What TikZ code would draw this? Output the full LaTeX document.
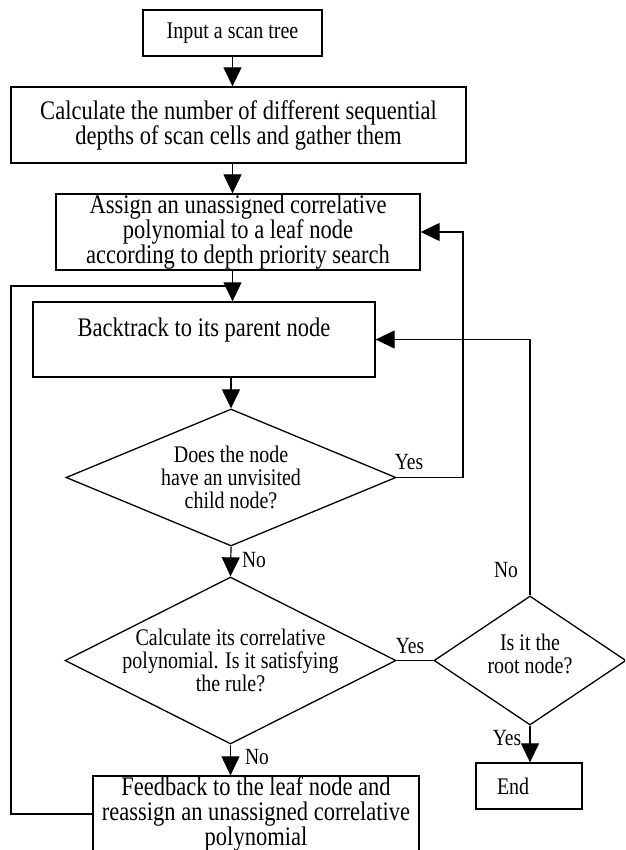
\documentclass[tikz,border=0pt]{standalone}
\usepackage{fontspec}
\setmainfont{Liberation Serif}
\newfontfamily\tallserif[FakeStretch=0.84]{Liberation Serif}
\usetikzlibrary{arrows.meta,positioning,shapes.geometric,calc}
\definecolor{ink}{HTML}{000000}
\tikzset{
  procbox/.style={
    draw=ink, line width=1.3pt, rectangle,
    align=center, inner sep=0pt,
    font=\tallserif\fontsize{26.8}{25}\selectfont
  },
  smallbox/.style={
    procbox, font=\tallserif\fontsize{23.8}{23}\selectfont
  },
  decision/.style={
    draw=ink, line width=1.3pt, diamond, inner sep=0pt
  },
  decisiontext/.style={
    align=center, inner sep=0pt,
    font=\tallserif\fontsize{23.8}{23}\selectfont
  },
  flowlabel/.style={inner sep=0pt, font=\tallserif\fontsize{23.2}{22}\selectfont},
  flowline/.style={draw=ink, line width=1.2pt},
  flowarrow/.style={flowline, -{Triangle[length=19pt,width=18pt]}}
}

\begin{document}
\begin{tikzpicture}[x=1pt,y=-1pt]
  \fill[white] (0,0) rectangle (625,850);
  \clip (0,0) rectangle (625,850);

  \node[smallbox,minimum width=179pt,minimum height=46pt] (input) at (232.5,33) {Input a scan tree};
  \node[procbox,minimum width=455pt,minimum height=76pt] (depths) at (238.5,125)
    {Calculate the number of different sequential\\depths of scan cells and gather them};
  \node[procbox,minimum width=364pt,minimum height=76pt] (assign) at (238,232)
    {Assign an unassigned correlative\\polynomial to a leaf node\\according to depth priority search};
  \node[procbox,minimum width=342pt,minimum height=75pt] (backtrack) at (204,339.5)
    {Backtrack to its parent node\\ \mbox{}};

  \node[decision,minimum width=330pt,minimum height=137pt] (unvisited) at (231,477.5) {};
  \node[decisiontext] (unvisitedtxt) at (unvisited) {Does the node\\have an unvisited\\child node?};
  \node[decision,minimum width=331pt,minimum height=167pt] (satisfy) at (230.5,660.5) {};
  \node[decisiontext] (satisfytxt) at (satisfy) {Calculate its correlative\\polynomial. Is it satisfying\\the rule?};
  \node[decision,minimum width=192pt,minimum height=129pt] (isroot) at (530,660.5) {};
  \node[decisiontext] (isroottxt) at (530,654) {Is it the\\root node?};

  \node[procbox,minimum width=326pt,minimum height=76pt] (feedback) at (256,814)
    {Feedback to the leaf node and\\reassign an unassigned correlative\\polynomial};
  \node[smallbox,minimum width=106pt,minimum height=46pt,text width=64pt,align=left] (finish) at (529,786) {End};

  \coordinate (yesturn) at (463,477.5);
  \coordinate (loopleft) at (11,286);
  \coordinate (loopjoin) at (232.5,286);

  \draw[flowarrow] (input.south) -- (input.south |- depths.north);
  \draw[flowarrow] (input.south |- depths.south) -- (input.south |- assign.north);
  \draw[flowarrow] (input.south |- assign.south) -- (input.south |- backtrack.north);
  \draw[flowarrow] (backtrack.south -| unvisited.north) -- (unvisited.north);
  \draw[flowarrow] (unvisited.south) -- (satisfy.north);
  \draw[flowarrow] (satisfy.south) -- (satisfy.south |- feedback.north);
  \draw[flowarrow] (unvisited.east) -- (yesturn) |- (assign.east);
  \draw[flowline] (satisfy.east) -- (isroot.west);
  \draw[flowarrow] (isroot.north) |- (backtrack.east);
  \draw[flowarrow] (isroot.south) -- (isroot.south |- finish.north);
  \draw[flowline] (feedback.west) -| (loopleft) -- (loopjoin);

  \node[flowlabel] (yesup) at (409,462) {Yes};
  \node[flowlabel] (nodown) at (254,560) {No};
  \node[flowlabel] (yesright) at (410,646) {Yes};
  \node[flowlabel] (nofeed) at (257,757) {No};
  \node[flowlabel] (noroot) at (506,570) {No};
  \node[flowlabel] (yesend) at (507,738) {Yes};
\end{tikzpicture}
\end{document}
